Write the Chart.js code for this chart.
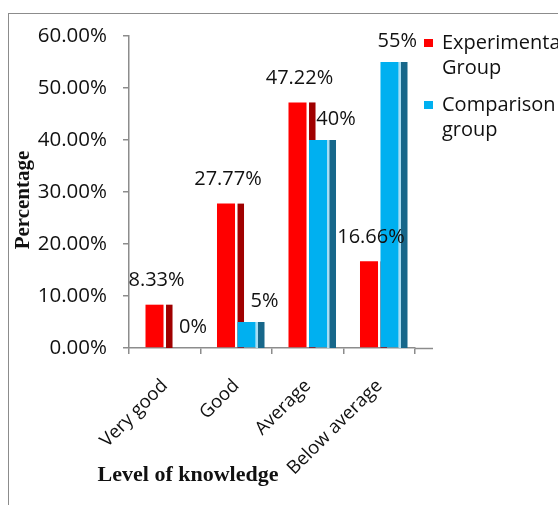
<!DOCTYPE html>
<html>
<head>
<meta charset="utf-8">
<script src="https://cdn.jsdelivr.net/npm/chart.js@4.4.1/dist/chart.umd.min.js"></script>
<style>
  body { margin: 0; background: #fff; overflow: hidden; }
  #wrap { position: relative; width: 558px; height: 505px; }
  #frame { position: absolute; left: 8px; top: 13px; width: 600px; height: 600px; border: 1.5px solid #8c8c8c; pointer-events: none; }
  canvas { position: absolute; left: 0; top: 0; }
</style>
</head>
<body>
<div id="wrap">
  <canvas id="barChart" width="558" height="505"></canvas>
  <div id="frame"></div>
</div>
<script>
const categories = ["Very good", "Good", "Average", "Below average"];
const experimental = [8.33, 27.77, 47.22, 16.66];
const comparison = [0, 5, 40, 55];
const labelsExp = ["8.33%", "27.77%", "47.22%", "16.66%"];
const labelsComp = ["0%", "5%", "40%", "55%"];
const yTicks = [0, 10, 20, 30, 40, 50, 60];

const FONT = "Open Sans";

// dark side stripe behind each bar (drawn before bars so next bar covers it)
const stripes = {
  id: "stripes",
  beforeDatasetsDraw(chart) {
    const ctx = chart.ctx;
    const base = chart.scales.y.getPixelForValue(0);
    chart.data.datasets.forEach((ds, i) => {
      chart.getDatasetMeta(i).data.forEach((bar) => {
        if (bar.base - bar.y < 0.5) return;
        const r = bar.x + bar.width / 2;
        if (ds.edgeColor) {
          ctx.fillStyle = ds.edgeColor;
          ctx.fillRect(r, bar.y, 3, base - bar.y);
        }
        ctx.fillStyle = ds.stripeColor;
        ctx.fillRect(r + 2.5, bar.y, 6.5, base - bar.y);
      });
    });
  },
};

const extras = {
  id: "extras",
  afterDraw(chart) {
    const ctx = chart.ctx;
    const area = chart.chartArea;
    ctx.save();
    // axis line continues a little past the last tick
    ctx.strokeStyle = "#8c8c8c";
    ctx.lineWidth = 1.5;
    ctx.beginPath();
    ctx.moveTo(area.right, area.bottom + 0.5);
    ctx.lineTo(area.right + 18, area.bottom + 0.5);
    ctx.stroke();

    // value labels
    ctx.fillStyle = "#111";
    ctx.font = "20px " + FONT;
    ctx.textAlign = "center";
    ctx.textBaseline = "middle";
    const m0 = chart.getDatasetMeta(0).data;
    const m1 = chart.getDatasetMeta(1).data;
    m0.forEach((bar, i) => {
      ctx.fillText(labelsExp[i], bar.x + 2, bar.y - 24);
    });
    m1.forEach((bar, i) => {
      const w = ctx.measureText(labelsComp[i]).width;
      let x = bar.x + 18;
      if (x + w / 2 > area.right + 2) x = area.right + 2 - w / 2;
      ctx.fillText(labelsComp[i], x, bar.y - 21);
    });

    // legend
    ctx.textAlign = "left";
    ctx.font = "20px " + FONT;
    let y = 43;
    chart.data.datasets.forEach((ds) => {
      ctx.fillStyle = ds.backgroundColor;
      ctx.fillRect(424, y - 4, 9, 8);
      ctx.fillStyle = "#111";
      ds.label.split(" ").forEach((line, k) => {
        ctx.fillText(line, 442, y + k * 25);
      });
      y += 62;
    });

    // axis titles
    ctx.font = "bold 22px 'Liberation Serif'";
    ctx.textAlign = "center";
    ctx.fillText("Level of knowledge", 188, 475);
    ctx.font = "bold 21px 'Liberation Serif'";
    ctx.translate(24, 200);
    ctx.rotate(-Math.PI / 2);
    ctx.fillText("Percentage", 0, 0);
    ctx.restore();
  },
};

new Chart(document.getElementById("barChart"), {
  type: "bar",
  data: {
    labels: categories,
    datasets: [
      {
        label: "Experimental Group",
        data: experimental,
        backgroundColor: "#FF0000",
        stripeColor: "#A00000",
        categoryPercentage: 0.573,
        barPercentage: 0.88,
      },
      {
        label: "Comparison group",
        data: comparison,
        backgroundColor: "#00B0F0",
        stripeColor: "#17678A",
        edgeColor: "#A7DDF3",
        categoryPercentage: 0.573,
        barPercentage: 0.88,
      },
    ],
  },
  options: {
    responsive: false,
    animation: false,
    layout: { padding: { top: 36, right: 143, left: 0, bottom: 0 } },
    plugins: {
      legend: { display: false },
      tooltip: { enabled: false },
    },
    scales: {
      x: {
        grid: {
          offset: true,
          drawOnChartArea: false,
          tickLength: 6,
          color: "#8c8c8c",
          lineWidth: 1.5,
        },
        border: { color: "#8c8c8c", width: 1.5 },
        ticks: {
          color: "#111",
          font: { family: FONT, size: 18.5 },
          maxRotation: 45,
          minRotation: 45,
          padding: 21,
        },
        afterFit(scale) {
          scale.height = 157;
        },
      },
      y: {
        min: 0,
        max: 60,
        afterBuildTicks(scale) {
          scale.ticks = yTicks.map((v) => ({ value: v }));
        },
        grid: {
          drawOnChartArea: false,
          tickLength: 6,
          color: "#8c8c8c",
          lineWidth: 1.5,
        },
        border: { color: "#8c8c8c", width: 1.5 },
        ticks: {
          color: "#111",
          font: { family: FONT, size: 20.5 },
          padding: 16,
          callback: (v) => v.toFixed(2) + "%",
        },
        afterFit(scale) {
          scale.width = 129;
        },
      },
    },
  },
  plugins: [stripes, extras],
});
</script>
</body>
</html>
